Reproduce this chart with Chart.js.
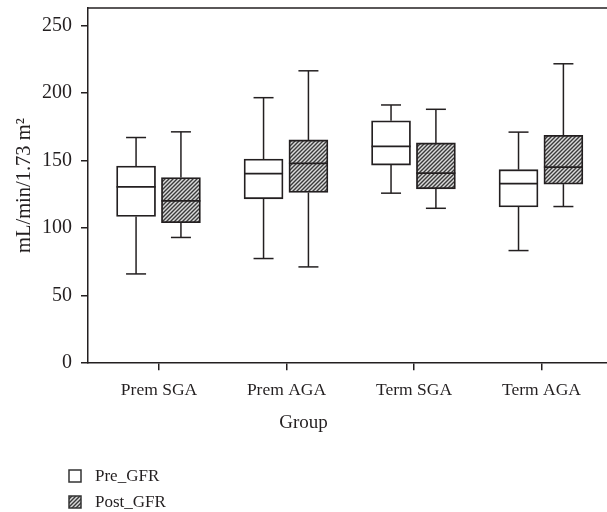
<!DOCTYPE html>
<html>
<head>
<meta charset="utf-8">
<script src="https://cdn.jsdelivr.net/npm/chart.js@4.4.1/dist/chart.umd.min.js"></script>
<style>
  html, body { margin: 0; padding: 0; background: #fff; }
  #wrap { width: 607px; height: 512px; }
</style>
</head>
<body>
<div id="wrap"><canvas id="gfrChart"></canvas></div>
<script>
const GROUPS = ["Prem SGA", "Prem AGA", "Term SGA", "Term AGA"];
const SERIES = ["Pre_GFR", "Post_GFR"];
const Y_TICKS = [0, 50, 100, 150, 200, 250];

// five-number summaries (mL/min/1.73 m²)
const PRE_MIN = [66.1, 77.5, 125.9, 83.4];
const PRE_Q1 = [108.7, 121.7, 146.7, 115.7];
const PRE_MEDIAN = [130.6, 140.3, 160.6, 132.9];
const PRE_Q3 = [146.0, 151.2, 179.5, 143.3];
const PRE_MAX = [167.1, 196.6, 191.2, 171.1];

const POST_MIN = [93.1, 71.3, 114.7, 116.0];
const POST_Q1 = [104.0, 126.4, 129.1, 132.6];
const POST_MEDIAN = [120.2, 148.0, 140.8, 145.2];
const POST_Q3 = [137.5, 165.3, 163.1, 168.8];
const POST_MAX = [171.3, 216.5, 188.0, 221.7];

const INK = "#231f20";
const FONT_FAMILY = '"Liberation Serif", "DejaVu Serif", serif';
const BOX_WIDTH = 39;
const CAP_WIDTH = 20;

function hatchPattern() {
  const tile = document.createElement("canvas");
  tile.width = 4;
  tile.height = 4;
  const c = tile.getContext("2d");
  c.fillStyle = "#dadada";
  c.fillRect(0, 0, 4, 4);
  c.strokeStyle = "#3a3a3a";
  c.lineWidth = 1.4;
  c.beginPath();
  c.moveTo(-1, 5); c.lineTo(5, -1);
  c.moveTo(-1, 1); c.lineTo(1, -1);
  c.moveTo(3, 5); c.lineTo(5, 3);
  c.stroke();
  return c.createPattern(tile, "repeat");
}

const HATCH = hatchPattern();

const summaries = [
  { label: SERIES[0], offset: -0.18, fill: "#ffffff", min: PRE_MIN, q1: PRE_Q1, med: PRE_MEDIAN, q3: PRE_Q3, max: PRE_MAX },
  { label: SERIES[1], offset: 0.172, fill: HATCH, min: POST_MIN, q1: POST_Q1, med: POST_MEDIAN, q3: POST_Q3, max: POST_MAX }
];

function boxData(s) {
  return GROUPS.map((_, i) => ({ x: i + 1 + s.offset, y: [s.q1[i], s.q3[i]] }));
}

function strokeLine(ctx, x1, y1, x2, y2) {
  ctx.beginPath();
  ctx.moveTo(x1, y1);
  ctx.lineTo(x2, y2);
  ctx.stroke();
}

const boxPlotPlugin = {
  id: "boxPlot",
  afterDatasetsDraw(chart) {
    const { ctx, chartArea, scales: { x, y } } = chart;
    ctx.save();
    ctx.strokeStyle = INK;
    ctx.lineCap = "butt";

    // top frame line
    ctx.lineWidth = 1.5;
    strokeLine(ctx, chartArea.left, chartArea.top, chart.width, chartArea.top);

    summaries.forEach((s) => {
      GROUPS.forEach((_, i) => {
        const cx = x.getPixelForValue(i + 1 + s.offset);
        const yMin = y.getPixelForValue(s.min[i]);
        const yMax = y.getPixelForValue(s.max[i]);
        const yQ1 = y.getPixelForValue(s.q1[i]);
        const yQ3 = y.getPixelForValue(s.q3[i]);
        const yMed = y.getPixelForValue(s.med[i]);
        ctx.lineWidth = 1.5;
        strokeLine(ctx, cx, yQ3, cx, yMax);
        strokeLine(ctx, cx, yQ1, cx, yMin);
        strokeLine(ctx, cx - CAP_WIDTH / 2, yMax, cx + CAP_WIDTH / 2, yMax);
        strokeLine(ctx, cx - CAP_WIDTH / 2, yMin, cx + CAP_WIDTH / 2, yMin);
        ctx.lineWidth = 1.8;
        strokeLine(ctx, cx - BOX_WIDTH / 2, yMed, cx + BOX_WIDTH / 2, yMed);
      });
    });
    ctx.restore();
  },
  afterDraw(chart) {
    // stacked legend under the axis title
    const { ctx } = chart;
    ctx.save();
    ctx.font = `17px ${FONT_FAMILY}`;
    ctx.textBaseline = "middle";
    const left = 69;
    const size = 12;
    summaries.forEach((s, i) => {
      const cy = chart.height - 36 + i * 26;
      ctx.fillStyle = s.fill;
      ctx.fillRect(left, cy - size / 2, size, size);
      ctx.strokeStyle = "#333";
      ctx.lineWidth = 1.5;
      ctx.strokeRect(left, cy - size / 2, size, size);
      ctx.fillStyle = INK;
      ctx.fillText(s.label, left + 26, cy + 1);
    });
    ctx.restore();
  }
};

Chart.defaults.font.family = FONT_FAMILY;
Chart.defaults.font.size = 17.5;
Chart.defaults.color = INK;

new Chart(document.getElementById("gfrChart"), {
  type: "bar",
  data: {
    datasets: summaries.map((s) => ({
      label: s.label,
      data: boxData(s),
      backgroundColor: s.fill,
      borderColor: INK,
      borderWidth: 1.8,
      borderSkipped: false,
      barThickness: BOX_WIDTH,
      grouped: false
    }))
  },
  options: {
    responsive: true,
    maintainAspectRatio: false,
    animation: false,
    devicePixelRatio: 1,
    layout: { padding: { top: 8, right: 0, left: 0, bottom: 78 } },
    plugins: {
      legend: { display: false },
      tooltip: { enabled: false },
      title: {
        display: true,
        text: "Group",
        position: "bottom",
        color: INK,
        font: { size: 19, weight: "normal" },
        padding: { top: 0, bottom: 0 }
      }
    },
    scales: {
      x: {
        type: "linear",
        offset: false,
        min: 0.443,
        max: 4.514,
        afterBuildTicks: (scale) => {
          scale.ticks = GROUPS.map((_, i) => ({ value: i + 1 }));
        },
        ticks: {
          callback: (value) => GROUPS[value - 1] ?? "",
          padding: 10,
          maxRotation: 0,
          autoSkip: false,
          color: INK
        },
        grid: { offset: false, drawOnChartArea: false, drawTicks: true, tickLength: 7, color: INK, lineWidth: 1.5 },
        border: { display: true, color: INK, width: 1.5 }
      },
      y: {
        min: 0,
        max: 263,
        afterBuildTicks: (scale) => {
          scale.ticks = Y_TICKS.map((v) => ({ value: v }));
        },
        afterFit: (scale) => {
          scale.width = 88;
          scale.paddingTop = 0;
          scale.paddingBottom = 0;
        },
        ticks: { padding: 9, color: INK, font: { size: 20 } },
        grid: { drawOnChartArea: false, drawTicks: true, tickLength: 7, color: INK, lineWidth: 1.5 },
        border: { display: true, color: INK, width: 1.5 },
        title: {
          display: true,
          text: "mL/min/1.73 m²",
          color: INK,
          font: { size: 20.5 },
          padding: { top: 12, bottom: 0 }
        }
      }
    }
  },
  plugins: [boxPlotPlugin]
});
</script>
</body>
</html>
